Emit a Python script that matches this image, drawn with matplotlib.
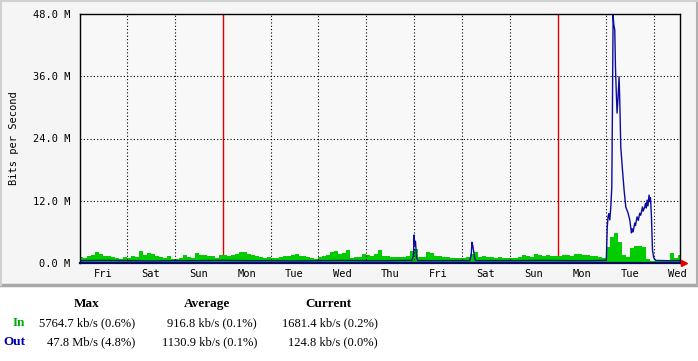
import matplotlib
matplotlib.use("Agg")
import matplotlib.pyplot as plt
from matplotlib.patches import Rectangle
from matplotlib.lines import Line2D
import numpy as np

# ---------------- data ----------------
day_labels = ["Fri", "Sat", "Sun", "Mon", "Tue", "Wed", "Thu",
              "Fri", "Sat", "Sun", "Mon", "Tue", "Wed"]
week_starts = [3, 10]          # red lines (Monday 00:00)
y_ticks = [0, 12, 24, 36, 48]
y_tick_labels = ["0.0 M", "12.0 M", "24.0 M", "36.0 M", "48.0 M"]

# In traffic (Mbit/s), 2-hour bins starting at day 0
in_vals = [
    1.1, 1.0, 1.3, 1.6, 2.1, 1.8, 1.3, 1.4, 1.1, 0.9, 0.8, 1.1,   # Fri
    1.0, 1.4, 1.2, 2.3, 1.5, 2.0, 1.7, 1.4, 1.2, 1.0, 1.3, 0.8,   # Sat
    0.8, 0.9, 1.6, 1.1, 0.9, 1.9, 1.5, 1.6, 1.3, 1.4, 1.0, 1.5,   # Sun
    1.6, 1.4, 1.5, 1.7, 2.1, 2.2, 1.8, 1.5, 1.3, 1.2, 1.0, 1.1,   # Mon
    1.0, 0.9, 1.1, 1.3, 1.4, 1.5, 1.8, 1.4, 1.3, 1.2, 0.9, 0.8,   # Tue
    1.2, 1.3, 1.5, 2.1, 2.4, 1.8, 2.0, 2.5, 1.0, 1.2, 1.2, 1.7,   # Wed
    1.6, 1.4, 1.8, 2.6, 1.4, 1.3, 1.2, 1.2, 1.1, 1.2, 1.3, 2.4,   # Thu
    2.7, 1.1, 1.2, 2.1, 2.0, 1.4, 1.3, 1.1, 1.1, 1.0, 1.0, 1.0,   # Fri
    1.0, 1.1, 1.7, 2.2, 1.2, 1.3, 1.1, 1.1, 1.0, 1.1, 1.0, 1.0,   # Sat
    1.0, 0.9, 1.1, 1.6, 1.4, 1.2, 1.7, 1.5, 1.3, 1.6, 1.3, 1.4,   # Sun
    1.4, 1.5, 1.6, 1.4, 1.7, 1.8, 1.6, 1.5, 1.3, 1.3, 1.1, 1.0,   # Mon
    3.0, 5.0, 5.8, 4.0, 1.5, 1.2, 2.8, 3.2, 3.3, 3.0, 0.7, 0.3,   # Tue
    0.3, 0.3, 0.4, 0.3, 1.9, 0.9, 1.6,                            # Wed
]

# Out traffic (Mbit/s): time in days, value
out_t = [0.0, 0.5, 1.0, 1.5, 2.0, 2.5, 3.0, 3.5, 4.0, 4.5, 5.0, 5.5, 6.0, 6.5,
         6.95, 6.985, 6.995, 7.01, 7.025, 7.05, 7.075, 7.5, 8.0,
         8.16, 8.19, 8.205, 8.22, 8.245, 8.27, 8.3, 8.7, 9.2, 9.7, 10.2, 10.7,
         11.011, 11.031, 11.048, 11.063, 11.084, 11.105, 11.126, 11.140, 11.153,
         11.167, 11.188, 11.202, 11.219, 11.236, 11.257, 11.278, 11.292, 11.313,
         11.349, 11.382, 11.418, 11.466, 11.501, 11.536, 11.55, 11.57, 11.605,
         11.62, 11.653, 11.68, 11.708, 11.73, 11.766, 11.78, 11.814, 11.83,
         11.845, 11.862, 11.88, 11.904, 11.92, 11.933, 11.954, 11.975, 12.002,
         12.044, 12.3, 12.55]
out_v = [0.45, 0.5, 0.45, 0.4, 0.45, 0.45, 0.5, 0.45, 0.45, 0.4, 0.45, 0.5, 0.45, 0.45,
         0.5, 1.5, 5.4, 3.5, 4.2, 1.0, 0.45, 0.45, 0.45,
         0.45, 1.5, 4.0, 3.5, 2.0, 0.6, 0.45, 0.45, 0.45, 0.5, 0.45, 0.45,
         0.5, 7.0, 8.9, 9.5, 8.3, 10.8, 14.7, 31.0, 47.8,
         46.0, 44.9, 37.8, 33.0, 28.9, 32.0, 35.9, 31.4, 22.4,
         17.9, 14.1, 10.8, 9.6, 8.3, 5.8, 6.6, 6.0, 7.7,
         7.2, 8.9, 8.2, 9.6, 9.2, 10.8, 10.0, 10.8, 11.5,
         10.6, 12.1, 11.0, 13.1, 11.8, 12.6, 8.9, 2.5, 1.0,
         0.5, 0.45, 0.45]

header = ["Max", "Average", "Current"]
row_in = ["5764.7 kb/s (0.6%)", "916.8 kb/s (0.1%)", "1681.4 kb/s (0.2%)"]
row_out = ["47.8 Mb/s (4.8%)", "1130.9 kb/s (0.1%)", "124.8 kb/s (0.0%)"]

# ---------------- figure ----------------
W, H = 698, 361
fig = plt.figure(figsize=(W / 100, H / 100), dpi=100)
fig.patch.set_facecolor("white")

def fx(px):
    return px / W

def fy(py):
    return 1 - py / H

# MRTG image background + border (drawn beneath the axes)
fig.patches.append(Rectangle((0, fy(286)), 1, 1 - fy(286), transform=fig.transFigure,
                             facecolor="#f5f5f5", edgecolor="none", zorder=-10))
fig.lines.append(Line2D([0, 1], [fy(285), fy(285)], transform=fig.transFigure,
                        color="#a8a8a8", lw=2.5, zorder=-9))
fig.lines.append(Line2D([fx(697), fx(697)], [fy(285), 1], transform=fig.transFigure,
                        color="#b0b0b0", lw=1.5, zorder=-9))
fig.lines.append(Line2D([fx(0.5), fx(0.5)], [fy(285), 1], transform=fig.transFigure,
                        color="#d0d0d0", lw=1.5, zorder=-9))
fig.lines.append(Line2D([0, 1], [fy(0.5), fy(0.5)], transform=fig.transFigure,
                        color="#d0d0d0", lw=1.5, zorder=-9))

L, R, T, B = 80, 680, 14, 263
ax = fig.add_axes([fx(L), fy(B), fx(R) - fx(L), fy(T) - fy(B)])
ax.set_zorder(1)
ax.set_facecolor("#f8f8f8")

x0, x1 = 0.02, 12.55
ax.set_xlim(x0, x1)
ax.set_ylim(0, 48)

# In: green area (2-hour steps)
n = len(in_vals)
in_t = np.arange(n + 1) * (2 / 24)
in_y = np.append(in_vals, in_vals[-1])
ax.fill_between(in_t, 0, in_y, step="post", color="#00cc00", lw=0, zorder=2)

# grid
mono = "DejaVu Sans Mono"
for d in range(1, 13):
    if d in week_starts:
        ax.axvline(d, color="#e00000", lw=1.0, zorder=1)
    else:
        ax.axvline(d, color="black", lw=0.8, ls=(0, (1, 2)), zorder=3)
for yv in y_ticks[1:-1]:
    ax.axhline(yv, color="black", lw=0.8, ls=(0, (1, 2)), zorder=3)

# Out: blue line
ax.plot(out_t, out_v, color="#0c0c9c", lw=1.0, zorder=4)

# axes / ticks
for s in ax.spines.values():
    s.set_color("black")
    s.set_linewidth(1.0)
ax.spines["bottom"].set_color("#0a0a5a")
ax.spines["bottom"].set_linewidth(1.6)
ax.set_yticks(y_ticks)
ax.set_yticklabels(y_tick_labels, fontfamily=mono, fontsize=7.5)
ax.tick_params(axis="y", length=0, pad=7)
ax.set_xticks([])
ax.set_xticks([d + 0.5 for d in range(len(day_labels))], minor=True)
ax.set_xticklabels(day_labels, minor=True, fontfamily=mono, fontsize=7.5)
ax.tick_params(axis="x", which="minor", length=0, pad=4)

# red arrow at end of x-axis
ax.plot([1.006], [0], marker=">", color="#e00000", ms=5, transform=ax.transAxes,
        clip_on=False, zorder=5)

fig.text(fx(14), fy(138.5), "Bits per Second", rotation=90, ha="center", va="center",
         fontfamily=mono, fontsize=7.5)

# ---------------- table ----------------
serif = "Liberation Serif"
hx = [87, 207, 328]
right_x = [135, 257, 378]
for t, x in zip(header, hx):
    fig.text(fx(x), fy(304), t, ha="center", va="center", fontfamily=serif,
             fontsize=9.5, fontweight="bold")
fig.text(fx(13), fy(323), "In", ha="left", va="center", fontfamily=serif,
         fontsize=9.5, fontweight="bold", color="#00aa00")
fig.text(fx(3), fy(342), "Out", ha="left", va="center", fontfamily=serif,
         fontsize=9.5, fontweight="bold", color="#0000aa")
for t, x in zip(row_in, right_x):
    fig.text(fx(x), fy(323), t, ha="right", va="center", fontfamily=serif, fontsize=9)
for t, x in zip(row_out, right_x):
    fig.text(fx(x), fy(342), t, ha="right", va="center", fontfamily=serif, fontsize=9)

fig.savefig("out.png", dpi=100, facecolor=fig.get_facecolor())
